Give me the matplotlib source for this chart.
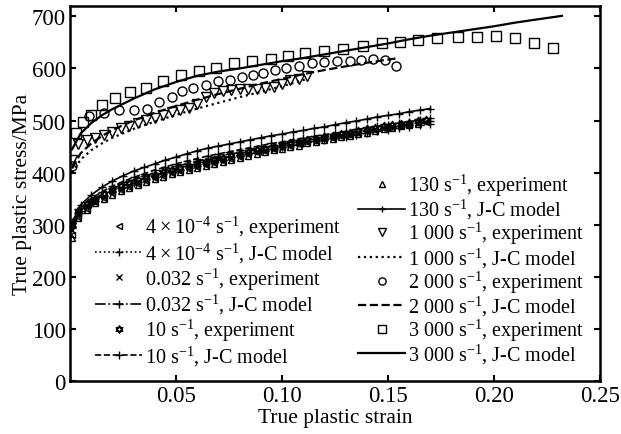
import matplotlib
matplotlib.use("Agg")
import matplotlib.pyplot as plt
from matplotlib.path import Path

plt.rcParams["font.family"] = ["Liberation Serif", "DejaVu Serif"]
plt.rcParams["mathtext.fontset"] = "custom"
plt.rcParams["mathtext.rm"] = "Liberation Serif"
plt.rcParams["mathtext.it"] = "Liberation Serif:italic"
plt.rcParams["mathtext.bf"] = "Liberation Serif:bold"

# low strain-rate group, experiments (shared strain grid)
strain_lo = [0.001, 0.004, 0.008, 0.012, 0.016, 0.020, 0.024, 0.028, 0.032, 0.036,
             0.040, 0.044, 0.048, 0.052, 0.056, 0.060, 0.064, 0.068, 0.072, 0.076,
             0.080, 0.084, 0.088, 0.092, 0.096, 0.100, 0.104, 0.108, 0.112, 0.116,
             0.120, 0.124, 0.128, 0.132, 0.136, 0.140, 0.144, 0.148, 0.152, 0.156,
             0.160, 0.164, 0.168]
exp_4e4 = [280, 315, 331, 343, 352, 360, 367, 373, 379, 384, 389, 394, 399, 403, 407,
           411, 415, 419, 423, 427, 431, 435, 439, 442, 446, 449, 452, 455, 458, 461,
           464, 467, 470, 473, 476, 479, 482, 485, 488, 490, 493, 495, 498]
exp_0032 = [290, 320, 336, 347, 356, 364, 371, 377, 383, 388, 393, 398, 402, 406, 410,
            414, 418, 422, 426, 430, 434, 437, 441, 444, 447, 450, 454, 457, 460, 463,
            466, 469, 472, 475, 478, 481, 484, 486, 489, 491, 494, 496]
exp_10 = [300, 326, 340, 350, 359, 367, 374, 380, 386, 391, 396, 401, 405, 409, 413,
          417, 421, 425, 429, 433, 436, 440, 443, 446, 450, 453, 456, 459, 462, 465,
          468, 471, 474, 477, 480, 483, 486, 489, 491, 494, 496, 499, 501]
exp_130 = [275, 312, 329, 341, 350, 358, 365, 371, 377, 382, 387, 392, 397, 401, 405,
           409, 413, 417, 421, 425, 428, 432, 436, 439, 443, 446, 449, 452, 456, 459,
           462, 465, 468, 471, 474, 477, 480, 483, 486, 489, 491, 494]

# low strain-rate group, J-C model curves
strain_jc = [0.001, 0.005, 0.010, 0.015, 0.020, 0.025, 0.030, 0.035, 0.040, 0.045,
             0.050, 0.055, 0.060, 0.065, 0.070, 0.075, 0.080, 0.085, 0.090, 0.095,
             0.100, 0.105, 0.110, 0.115, 0.120, 0.125, 0.130, 0.135, 0.140, 0.145,
             0.150, 0.155, 0.160, 0.165, 0.170]
jc_4e4 = [293, 322, 340, 353, 364, 373, 381, 388, 395, 401, 407, 412, 417, 422, 426,
          430, 434, 438, 442, 446, 449, 453, 456, 460, 463, 466, 469, 473, 476, 479,
          482, 485, 488, 491, 494]
jc_0032 = [298, 327, 345, 358, 369, 378, 386, 393, 400, 406, 412, 417, 422, 427, 431,
           435, 439, 443, 447, 451, 454, 458, 461, 465, 468, 471, 474, 478, 481, 484,
           487, 490, 493, 496, 499]
jc_10 = [303, 332, 350, 363, 374, 383, 391, 398, 405, 411, 417, 422, 427, 432, 436,
         440, 444, 448, 452, 456, 459, 463, 466, 470, 473, 476, 479, 483, 486, 489,
         492, 495, 498, 501, 504]
jc_130 = [305, 338, 357, 372, 384, 394, 403, 410, 417, 424, 430, 436, 442, 447, 451,
          455, 459, 463, 467, 471, 474, 478, 481, 485, 488, 492, 496, 499, 503, 507,
          510, 513, 517, 520, 523]

# high strain-rate group
strain_1000 = [0.001, 0.004, 0.008, 0.012, 0.016, 0.020, 0.024, 0.028, 0.032, 0.036,
               0.040, 0.044, 0.048, 0.052, 0.056, 0.060, 0.064, 0.068, 0.072, 0.076,
               0.080, 0.084, 0.088, 0.092, 0.096, 0.100, 0.104, 0.108, 0.112]
exp_1000 = [425, 455, 462, 467, 472, 478, 485, 490, 495, 501, 505, 510, 516, 520, 524,
            532, 545, 553, 557, 559, 560, 560, 560, 562, 565, 570, 578, 580, 586]
strain_2000 = [0.001, 0.009, 0.016, 0.023, 0.030, 0.0365, 0.042, 0.048, 0.053, 0.058,
               0.064, 0.070, 0.0755, 0.081, 0.0865, 0.091, 0.0967, 0.102, 0.108, 0.114,
               0.120, 0.126, 0.132, 0.1375, 0.143, 0.1486, 0.154]
exp_2000 = [412, 509, 515, 521, 520, 523, 535, 545, 556, 563, 569, 576, 578, 584, 588,
            592, 597, 601, 605, 610, 613, 614, 615, 616, 618, 616, 605]
strain_3000 = [0.003, 0.006, 0.010, 0.015, 0.021, 0.0285, 0.036, 0.044, 0.0525, 0.061,
               0.069, 0.0775, 0.086, 0.0947, 0.103, 0.111, 0.120, 0.129, 0.138, 0.147,
               0.1555, 0.164, 0.173, 0.183, 0.192, 0.201, 0.210, 0.219, 0.228]
exp_3000 = [477, 497, 510, 529, 544, 554, 563, 576, 587, 596, 600, 610, 615, 618, 624,
            630, 633, 637, 644, 648, 651, 654, 658, 660, 661, 662, 658, 649, 640]

strain_jc1000 = [0.001, 0.005, 0.010, 0.015, 0.020, 0.030, 0.040, 0.050, 0.060, 0.070,
                 0.080, 0.090, 0.100, 0.112]
jc_1000 = [400, 425, 443, 456, 467, 484, 498, 511, 523, 534, 545, 555, 566, 580]
strain_jc2000 = [0.001, 0.005, 0.010, 0.015, 0.020, 0.030, 0.040, 0.050, 0.060, 0.070,
                 0.080, 0.090, 0.100, 0.110, 0.120, 0.130, 0.140, 0.155]
jc_2000 = [408, 437, 456, 470, 482, 500, 515, 528, 540, 551, 561, 571, 580, 589, 597,
           604, 611, 620]
strain_jc3000 = [0.001, 0.005, 0.010, 0.015, 0.020, 0.030, 0.040, 0.050, 0.060, 0.070,
                 0.080, 0.090, 0.100, 0.110, 0.120, 0.130, 0.140, 0.150, 0.160, 0.170,
                 0.180, 0.190, 0.200, 0.210, 0.220, 0.232]
jc_3000 = [445, 475, 495, 510, 522, 542, 560, 574, 586, 594, 600, 607, 614, 620, 627,
           634, 641, 648, 656, 663, 669, 675, 681, 688, 694, 701]

x_ticks = [0.05, 0.10, 0.15, 0.20, 0.25]
x_ticklabels = ["0.05", "0.10", "0.15", "0.20", "0.25"]
y_ticks = [0, 100, 200, 300, 400, 500, 600, 700]

# star of David marker for the 10 s^-1 data
hexagram = Path(
    [(0, 1), (-0.866, -0.5), (0.866, -0.5), (0, 1),
     (0, -1), (0.866, 0.5), (-0.866, 0.5), (0, -1)],
    [Path.MOVETO, Path.LINETO, Path.LINETO, Path.CLOSEPOLY,
     Path.MOVETO, Path.LINETO, Path.LINETO, Path.CLOSEPOLY],
)

fig = plt.figure(figsize=(6.21, 4.35), dpi=100)
ax = fig.add_axes([0.1127, 0.1218, 0.8535, 0.8622])

k = "k"
ms_lo = 5
open_kw = dict(linestyle="none", mfc="none", mec=k, mew=1.0)

h = {}
h["e4"], = ax.plot(strain_lo[:len(exp_4e4)], exp_4e4, marker="<", ms=ms_lo, **open_kw)
h["m4"], = ax.plot(strain_jc, jc_4e4, color=k, ls=":", lw=1.2, marker="+", ms=6, mew=1.0)
h["e032"], = ax.plot(strain_lo[:len(exp_0032)], exp_0032, marker="x", ms=ms_lo, **open_kw)
h["m032"], = ax.plot(strain_jc, jc_0032, color=k, ls="-.", lw=1.2, marker="+", ms=6, mew=1.0)
h["e10"], = ax.plot(strain_lo[:len(exp_10)], exp_10, marker=hexagram, ms=ms_lo + 1, **open_kw)
h["m10"], = ax.plot(strain_jc, jc_10, color=k, ls="--", lw=1.2, marker="+", ms=6, mew=1.0)
h["e130"], = ax.plot(strain_lo[:len(exp_130)], exp_130, marker="^", ms=ms_lo, **open_kw)
h["m130"], = ax.plot(strain_jc, jc_130, color=k, ls="-", lw=1.2, marker="+", ms=6, mew=1.0)

h["e1000"], = ax.plot(strain_1000, exp_1000, marker="v", ms=6.5, **open_kw)
h["m1000"], = ax.plot(strain_jc1000, jc_1000, color=k, ls=":", lw=1.6)
h["e2000"], = ax.plot(strain_2000, exp_2000, marker="o", ms=6.5, **open_kw)
h["m2000"], = ax.plot(strain_jc2000, jc_2000, color=k, ls="--", lw=1.6)
h["e3000"], = ax.plot(strain_3000, exp_3000, marker="s", ms=6.5, **open_kw)
h["m3000"], = ax.plot(strain_jc3000, jc_3000, color=k, ls="-", lw=1.6)

ax.set_xlim(0, 0.25)
ax.set_ylim(0, 720)
ax.set_xticks(x_ticks)
ax.set_xticklabels(x_ticklabels)
ax.set_yticks(y_ticks)
ax.tick_params(direction="in", top=True, right=True, length=4, width=1.5,
               labelsize=16.5, pad=3)
for s in ax.spines.values():
    s.set_linewidth(1.8)
ax.set_xlabel("True plastic strain", fontsize=15.5, labelpad=1)
ax.set_ylabel("True plastic stress/MPa", fontsize=15.5, labelpad=0)

leg_kw = dict(frameon=False, fontsize=14.5, handlelength=2.35, handletextpad=0.15,
              borderpad=0, borderaxespad=0, numpoints=1)
left_labels = [
    ("e4", "4\u2009×\u200910$^{-4}$ s$^{-1}$, experiment"),
    ("m4", "4\u2009×\u200910$^{-4}$ s$^{-1}$, J-C model"),
    ("e032", "0.032 s$^{-1}$, experiment"),
    ("m032", "0.032 s$^{-1}$, J-C model"),
    ("e10", "10 s$^{-1}$, experiment"),
    ("m10", "10 s$^{-1}$, J-C model"),
]
right_labels = [
    ("e130", "130 s$^{-1}$, experiment"),
    ("m130", "130 s$^{-1}$, J-C model"),
    ("e1000", "1 000 s$^{-1}$, experiment"),
    ("m1000", "1 000 s$^{-1}$, J-C model"),
    ("e2000", "2 000 s$^{-1}$, experiment"),
    ("m2000", "2 000 s$^{-1}$, J-C model"),
    ("e3000", "3 000 s$^{-1}$, experiment"),
    ("m3000", "3 000 s$^{-1}$, J-C model"),
]
leg1 = fig.legend([h[a] for a, _ in left_labels], [b for _, b in left_labels],
                  loc="upper left", bbox_to_anchor=(95 / 621, 1 - 215 / 435),
                  markerscale=0.9, labelspacing=0.03, **leg_kw)
leg2 = fig.legend([h[a] for a, _ in right_labels], [b for _, b in right_labels],
                  loc="upper left", bbox_to_anchor=(358 / 621, 1 - 173 / 435),
                  markerscale=0.8, labelspacing=-0.05, **leg_kw)

fig.savefig("out.png", dpi=100)
